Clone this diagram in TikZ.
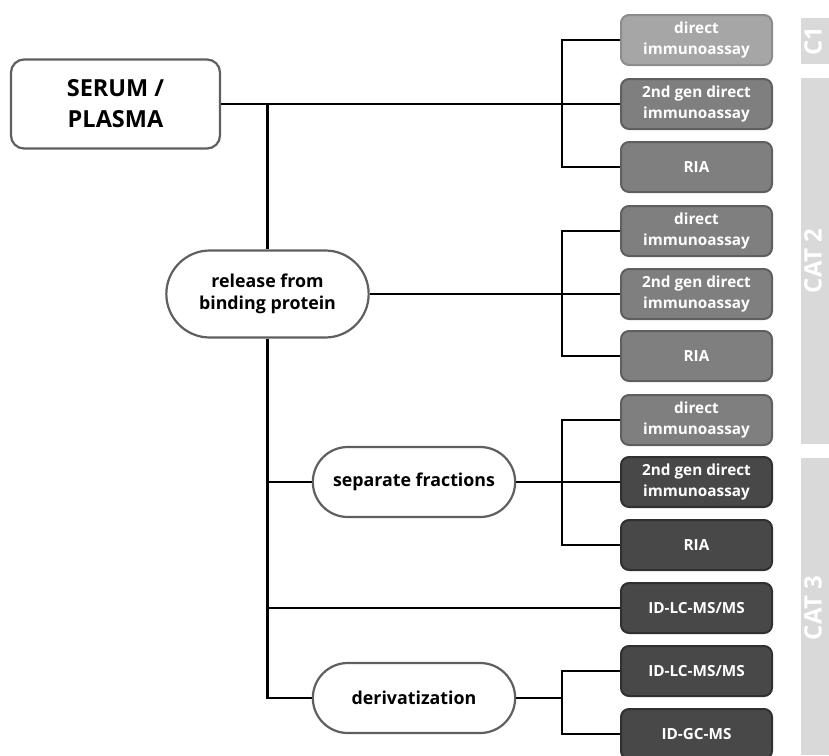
\documentclass[tikz,border=0pt]{standalone}
\usepackage{fontspec}
\setmainfont{Open Sans}
\usetikzlibrary{shapes.misc}
\tikzset{>=latex}
\definecolor{framegray}{RGB}{95,95,95}
\definecolor{lightbox}{RGB}{166,166,166}
\definecolor{lightedge}{RGB}{140,140,140}
\definecolor{midbox}{RGB}{127,127,127}
\definecolor{midedge}{RGB}{95,95,95}
\definecolor{darkbox}{RGB}{72,72,72}
\definecolor{darkedge}{RGB}{48,48,48}
\definecolor{catgray}{RGB}{217,217,217}

\begin{document}
\begin{tikzpicture}[x=1pt,y=-1pt,
    link/.style={line width=2.6pt,black},
    sample/.style={draw=framegray,line width=2.2pt,fill=white,rounded corners=13pt,
      minimum width=209pt,minimum height=89pt,align=center,
      font=\fontsize{23.5}{31}\selectfont\bfseries},
    stage/.style={rounded rectangle,draw=framegray,line width=2.2pt,fill=white,
      minimum width=209pt,align=center,
      font=\fontsize{17.8}{21.5}\selectfont\bfseries},
    assay/.style={rounded corners=8pt,line width=2pt,minimum width=151pt,
      minimum height=50pt,align=center,text=white,
      font=\fontsize{15.3}{21.3}\selectfont\bfseries},
    lightassay/.style={assay,fill=lightbox,draw=lightedge},
    midassay/.style={assay,fill=midbox,draw=midedge},
    darkassay/.style={assay,fill=darkbox,draw=darkedge},
    catlabel/.style={rotate=90,inner sep=0pt,text=white,font=\fontsize{24}{24}\selectfont\bfseries}]
  \useasboundingbox (0,0) rectangle (829,755);
  % category bars
  \fill[catgray] (801,18) rectangle (829,64);
  \fill[catgray] (801,78) rectangle (829,444);
  \fill[catgray] (801,458) rectangle (829,755);
  \node[catlabel] (c1) at (813,41) {C1};
  \node[catlabel] (c2) at (813,261) {CAT 2};
  \node[catlabel] (c3) at (813,608) {CAT 3};
  % sample and preparation steps
  \node[sample] (serum) at (115.5,104) {SERUM /\\PLASMA};
  \node[stage,minimum height=87pt] (release) at (267.5,294) {release from\\binding protein};
  \node[stage,minimum height=70pt] (separate) at (414,482) {separate fractions};
  \node[stage,minimum height=70pt] (deriv) at (414,698) {derivatization};
  % assays
  \node[lightassay] (a1) at (696.5,40) {direct\\immunoassay};
  \node[midassay] (a2) at (696.5,104) {2nd gen direct\\immunoassay};
  \node[midassay] (a3) at (696.5,167) {RIA};
  \node[midassay] (a4) at (696.5,231) {direct\\immunoassay};
  \node[midassay] (a5) at (696.5,294) {2nd gen direct\\immunoassay};
  \node[midassay] (a6) at (696.5,356) {RIA};
  \node[midassay] (a7) at (696.5,420) {direct\\immunoassay};
  \node[darkassay] (a8) at (696.5,482) {2nd gen direct\\immunoassay};
  \node[darkassay] (a9) at (696.5,545) {RIA};
  \node[darkassay] (a10) at (696.5,608) {ID-LC-MS/MS};
  \node[darkassay] (a11) at (696.5,671) {ID-LC-MS/MS};
  \node[darkassay] (a12) at (696.5,734) {ID-GC-MS};
  % junctions
  \coordinate (j1) at (562,104);
  \coordinate (j2) at (562,294);
  \coordinate (j3) at (562,482);
  \coordinate (j4) at (562,698);
  \coordinate (t1) at (267.5,104);
  % connectors
  \draw[link] (serum.east) -- (a2.west);
  \draw[link] (a1.west) -| (j1) |- (a3.west);
  \draw[link] (t1) -- (release.north);
  \draw[link] (release.south) |- (deriv.west);
  \draw[link] (release.east) -- (a5.west);
  \draw[link] (a4.west) -| (j2) |- (a6.west);
  \draw[link] (separate.west) -- (separate.west -| release.south);
  \draw[link] (separate.east) -- (a8.west);
  \draw[link] (a7.west) -| (j3) |- (a9.west);
  \draw[link] (a10.west) -- (a10.west -| release.south);
  \draw[link] (deriv.east) -- (j4);
  \draw[link] (a11.west) -| (j4) |- (a12.west);
\end{tikzpicture}
\end{document}
